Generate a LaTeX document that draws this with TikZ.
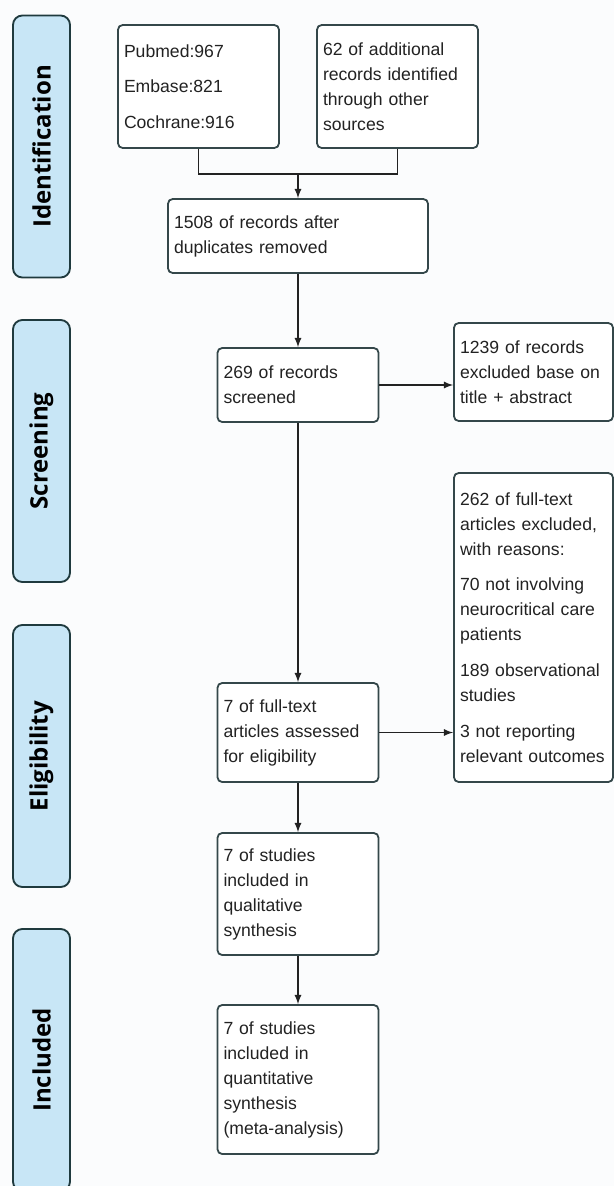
\documentclass[tikz,border=0pt]{standalone}
\usepackage{fontspec}
\setmainfont{Liberation Sans}
\newfontfamily\barfont{Open Sans}
\usetikzlibrary{arrows,positioning}

\definecolor{barfill}{HTML}{C8E6F6}
\definecolor{barline}{HTML}{1F3A3E}
\definecolor{boxline}{HTML}{34474A}
\definecolor{inktext}{HTML}{222222}
\definecolor{paper}{HTML}{FBFCFD}

\tikzset{
  stagebar/.style={draw=barline, fill=barfill, line width=1.4pt,
    rounded corners=7pt, rotate=90, minimum width=196.5pt,
    minimum height=42.75pt, text=black,
    font=\barfont\bfseries\fontsize{18}{20}\selectfont},
  recbox/.style={draw=boxline, fill=white, line width=1.35pt,
    rounded corners=3.5pt, align=left, inner xsep=4.5pt, text=inktext,
    font=\fontsize{13.2}{18.75}\selectfont},
  flow/.style={draw=inktext, line width=1.35pt, -latex},
}

\begin{document}
\begin{tikzpicture}[x=0.75pt,y=-0.75pt]
  \useasboundingbox (0,0) rectangle (614,1186);
  \fill[paper] (0,0) rectangle (614,1186);

  % stage bars on the left
  \node[stagebar] (barIdent)  at (41.5,146.5) {Identification};
  \node[stagebar] (barScreen) at (41.5,451)   {Screening};
  \node[stagebar] (barElig)   at (41.5,756)   {Eligibility};
  \node[stagebar] (barIncl)   at (41.5,1060)  {Included};

  % main column
  \node[recbox, text width=111.75pt, minimum height=92.25pt] (dbSearch)
        at (198.5,86.5) {Pubmed:967\\[8pt]Embase:821\\[8pt]Cochrane:916};
  \node[recbox, text width=111.75pt, minimum height=92.25pt] (otherSrc)
        [right of=dbSearch, node distance=149.25pt]
        {62 of additional\\records identified\\through other\\sources};
  \node[recbox, text width=186pt, minimum height=55.5pt] (dedup)
        at (298,236) {1508 of records after\\duplicates removed};
  \node[recbox, text width=111.75pt, minimum height=55.5pt] (screened)
        [below of=dedup, node distance=111.75pt] {269 of records\\screened};
  \node[recbox, text width=111.75pt, minimum height=74.25pt] (fullText)
        [below of=screened, node distance=260.625pt]
        {7 of full-text\\articles assessed\\for eligibility};
  \node[recbox, text width=111.75pt, minimum height=91.5pt] (qualSyn)
        [below of=fullText, node distance=121.125pt]
        {7 of studies\\included in\\qualitative\\synthesis};
  \node[recbox, text width=111.75pt, minimum height=111.75pt] (quantSyn)
        [below of=qualSyn, node distance=139.125pt]
        {7 of studies\\included in\\quantitative\\synthesis\\(meta-analysis)};

  % exclusion column
  \node[recbox, text width=110.25pt, minimum height=73.5pt] (exclAbs)
        at (533.5,372) {1239 of records\\excluded base on\\title + abstract};
  \node[recbox, text width=110.25pt, minimum height=231.75pt] (exclFull)
        [below of=exclAbs, node distance=191.625pt]
        {262 of full-text\\articles excluded,\\with reasons:\\[8pt]70 not involving\\neurocritical care\\patients\\[8pt]189 observational\\studies\\[8pt]3 not reporting\\relevant outcomes};

  % connectors
  \coordinate (merge) at (298,174);
  \draw[draw=inktext, line width=1.35pt] (dbSearch.south) |- (merge) -| (otherSrc.south);
  \draw[flow] (merge) -- (dedup.north);
  \draw[flow] (dedup.south) -- (screened.north);
  \draw[flow] (screened.east) -- (screened.east -| exclAbs.west);
  \draw[flow] (screened.south) -- (fullText.north);
  \draw[flow] (fullText.east) -- (fullText.east -| exclFull.west);
  \draw[flow] (fullText.south) -- (qualSyn.north);
  \draw[flow] (qualSyn.south) -- (quantSyn.north);
\end{tikzpicture}
\end{document}
